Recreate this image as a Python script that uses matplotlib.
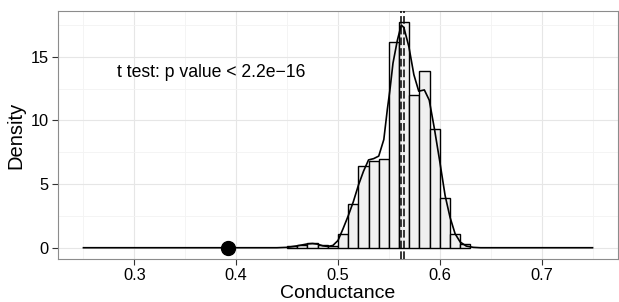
import matplotlib
matplotlib.use("Agg")
import matplotlib.pyplot as plt
import numpy as np

plt.rcParams['font.family'] = ['Liberation Sans', 'DejaVu Sans']

# histogram (density), bin width 0.01
bin_left = [0.45, 0.46, 0.47, 0.48, 0.49, 0.50, 0.51, 0.52, 0.53, 0.54,
            0.55, 0.56, 0.57, 0.58, 0.59, 0.60, 0.61, 0.62]
bin_height = [0.1, 0.2, 0.35, 0.2, 0.1, 1.1, 3.4, 6.4, 6.8, 7.0,
              16.2, 17.7, 12.0, 13.9, 9.3, 3.9, 1.1, 0.3]
bin_width = 0.01

# density curve
dens_x = [0.25, 0.44, 0.45, 0.46, 0.47, 0.475, 0.48, 0.485, 0.49, 0.495,
          0.50, 0.505, 0.51, 0.515, 0.52, 0.525, 0.53, 0.535, 0.54, 0.545,
          0.5485, 0.551, 0.554, 0.5583, 0.5621, 0.5647, 0.5696, 0.5745,
          0.5793, 0.5848, 0.5896, 0.5948, 0.5997, 0.6052, 0.61, 0.615,
          0.62, 0.626, 0.633, 0.64, 0.75]
dens_y = [0.0, 0.0, 0.03, 0.15, 0.3, 0.33, 0.28, 0.15, 0.1, 0.18,
          0.57, 1.5, 2.5, 3.6, 4.9, 6.0, 6.9, 7.0, 7.2, 8.5,
          10.9, 12.4, 14.5, 16.3, 17.5, 17.3, 15.8, 13.6,
          12.3, 12.4, 11.6, 9.3, 6.9, 4.1, 2.4, 1.1,
          0.45, 0.13, 0.03, 0.0, 0.0]

vlines = [0.5615, 0.5647]
observed = 0.392
label = "t test: p value < 2.2e\u221216"

fig = plt.figure(figsize=(6.19, 3.02), dpi=100)
ax = fig.add_axes([58/619, 43/302, 560/619, 248/302])

ax.bar(bin_left, bin_height, width=bin_width, align='edge',
       color='#f0f0f0', edgecolor='black', linewidth=1.0, zorder=2)
ax.plot(dens_x, dens_y, color='black', lw=1.2, zorder=3)
for v in vlines:
    ax.axvline(v, color='black', lw=1.1, dashes=(5, 2), zorder=4)
ax.plot([observed], [0], 'o', color='black', markersize=10, zorder=5)
ax.text(0.2825, 13.8, label, fontsize=12.7, ha='left', va='center')

ax.set_xlim(0.225, 0.775)
ax.set_ylim(-0.885, 18.6)
ax.set_xticks([0.3, 0.4, 0.5, 0.6, 0.7])
ax.set_xticks([0.25, 0.35, 0.45, 0.55, 0.65, 0.75], minor=True)
ax.set_yticks([0, 5, 10, 15])
ax.set_yticks([2.5, 7.5, 12.5, 17.5], minor=True)
ax.grid(which='major', color='#e6e6e6', lw=0.8, zorder=0)
ax.grid(which='minor', color='#f3f3f3', lw=0.6, zorder=0)
ax.set_axisbelow(True)
ax.tick_params(which='major', length=4, color='#333333', labelsize=11.8,
               labelcolor='black', pad=2.5)
ax.tick_params(which='minor', length=0)
for s in ax.spines.values():
    s.set_color('#8c8c8c')
    s.set_linewidth(0.8)

ax.set_xlabel("Conductance", fontsize=14)
ax.xaxis.label.set_va('bottom')
ax.xaxis.set_label_coords(338/619, 0.5/302, transform=fig.transFigure)
ax.set_ylabel("Density", fontsize=14.5, labelpad=4)

fig.savefig("out.png", dpi=100)
